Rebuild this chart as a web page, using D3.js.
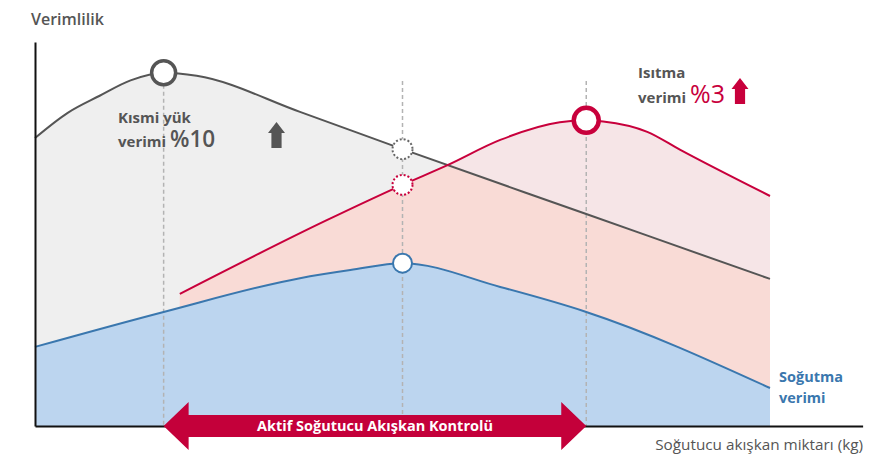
<!DOCTYPE html>
<html>
<head>
<meta charset="utf-8">
<script src="https://cdn.jsdelivr.net/npm/d3@7"></script>
<style>
  html, body { margin: 0; padding: 0; background: #fff; }
  svg { display: block; }
  text { font-family: "Open Sans", "Noto Sans", sans-serif; }
</style>
</head>
<body>
<svg id="chart" width="880" height="455"></svg>
<script>
// Refrigerant amount (x) vs. efficiency (y), relative units 0–100
const partLoadX = [0, 4.4, 8.8, 13, 17.5, 22, 36.05, 50, 75, 100];
const partLoadY = [75, 81.5, 86, 90, 92, 91.2, 81.8, 72.1, 55.2, 38.3];

const heatingX = [19.7, 39.7, 50, 56.2, 63.3, 71.4, 75, 77.3, 83.3, 87.8, 100];
const heatingY = [34.4, 53.6, 62.8, 68, 74.5, 79.1, 79.6, 79.3, 76.6, 71.9, 59.9];

const coolingX = [0, 17.5, 36.05, 42.9, 50, 63.3, 75, 100];
const coolingY = [20.6, 29.7, 38.5, 40.6, 42.4, 36.2, 29.7, 9.9];

// Marker positions: optimum points and the active control range
const partLoadPeak = 17.5;
const coolingPeak = 50;
const heatingPeak = 75;
const controlRange = [17.5, 75];
const axisEndX = 112.6;

const axisLabelY = "Verimlilik";
const axisLabelX = "Soğutucu akışkan miktarı (kg)";
const rangeLabel = "Aktif Soğutucu Akışkan Kontrolü";

const svg = d3.select("#chart");
const x = d3.scaleLinear().domain([0, 100]).range([35, 770]);
const y = d3.scaleLinear().domain([0, 100]).range([426, 42]);

const zip = (xs, ys) => xs.map((v, i) => [v, ys[i]]);
const partLoad = zip(partLoadX, partLoadY);
const heating = zip(heatingX, heatingY);
const cooling = zip(coolingX, coolingY);

const curve = d3.curveMonotoneX;
const area = d3.area().x(d => x(d[0])).y0(y(0)).y1(d => y(d[1])).curve(curve);
const line = d3.line().x(d => x(d[0])).y(d => y(d[1])).curve(curve);

function valueAt(series, xv) {
  // read a series value from the drawn path at a given x
  const path = svg.append("path").attr("d", line(series)).attr("fill", "none");
  const node = path.node();
  const len = node.getTotalLength();
  const px = x(xv);
  let lo = 0, hi = len;
  for (let i = 0; i < 40; i++) {
    const mid = (lo + hi) / 2;
    if (node.getPointAtLength(mid).x < px) lo = mid; else hi = mid;
  }
  const py = node.getPointAtLength(lo).y;
  path.remove();
  return py;
}

const defs = svg.append("defs");
defs.append("clipPath").attr("id", "partLoadClip")
  .append("path").attr("d", area(partLoad));

// Filled areas
svg.append("path").attr("d", area(partLoad)).attr("fill", "#efefef");
svg.append("path").attr("d", area(heating)).attr("fill", "#f6e5e7");
svg.append("path").attr("d", area(heating)).attr("fill", "#f9dbd6")
  .attr("clip-path", "url(#partLoadClip)");
svg.append("path").attr("d", area(cooling)).attr("fill", "#bcd5ef");

// Vertical guide lines at the optimum points
const guides = [
  { v: partLoadPeak, top: y(92) + 12 },
  { v: coolingPeak, top: 81 },
  { v: heatingPeak, top: 81 }
];
svg.selectAll("line.guide").data(guides).join("line")
  .attr("class", "guide")
  .attr("x1", d => x(d.v)).attr("x2", d => x(d.v))
  .attr("y1", d => d.top).attr("y2", y(0))
  .attr("stroke", "#b3b3b3").attr("stroke-width", 1.5)
  .attr("stroke-dasharray", "4,3");

// Curves
svg.append("path").attr("d", line(partLoad)).attr("fill", "none")
  .attr("stroke", "#555555").attr("stroke-width", 2);
svg.append("path").attr("d", line(heating)).attr("fill", "none")
  .attr("stroke", "#c8003c").attr("stroke-width", 2);
svg.append("path").attr("d", line(cooling)).attr("fill", "none")
  .attr("stroke", "#3a77ae").attr("stroke-width", 2);

// Axes
const xAxisScale = d3.scaleLinear().domain([0, axisEndX]).range([x(0), x(axisEndX)]);
const xAxis = svg.append("g").attr("transform", `translate(0,${y(0)})`)
  .call(d3.axisBottom(xAxisScale).tickValues([]).tickSizeOuter(0));
const yAxis = svg.append("g").attr("transform", `translate(${x(0)},0)`)
  .call(d3.axisLeft(y).tickValues([]).tickSizeOuter(0));
[xAxis, yAxis].forEach(g => g.select(".domain")
  .attr("stroke", "#111").attr("stroke-width", 2));

// Optimum markers
function marker(xv, series, r, stroke, sw, dash) {
  svg.append("circle")
    .attr("cx", x(xv)).attr("cy", valueAt(series, xv)).attr("r", r)
    .attr("fill", "#fff").attr("stroke", stroke).attr("stroke-width", sw)
    .attr("stroke-dasharray", dash || null);
}
marker(partLoadPeak, partLoad, 12, "#555555", 3.5);
marker(heatingPeak, heating, 12.5, "#c8003c", 4.5);
marker(coolingPeak, cooling, 9.5, "#3a77ae", 2);
marker(coolingPeak, partLoad, 10, "#666666", 2, "2,2");
marker(coolingPeak, heating, 10, "#c8003c", 2, "2,2");

// Double arrow for the active control range
const ax0 = x(controlRange[0]), ax1 = x(controlRange[1]), ay = y(0);
const head = 25, bodyH = 11, headH = 24;
const arrowPath = d3.path();
arrowPath.moveTo(ax0, ay);
arrowPath.lineTo(ax0 + head, ay - headH);
arrowPath.lineTo(ax0 + head, ay - bodyH);
arrowPath.lineTo(ax1 - head, ay - bodyH);
arrowPath.lineTo(ax1 - head, ay - headH);
arrowPath.lineTo(ax1, ay);
arrowPath.lineTo(ax1 - head, ay + headH);
arrowPath.lineTo(ax1 - head, ay + bodyH);
arrowPath.lineTo(ax0 + head, ay + bodyH);
arrowPath.lineTo(ax0 + head, ay + headH);
arrowPath.closePath();
svg.append("path").attr("d", arrowPath.toString()).attr("fill", "#c4003a");
svg.append("text").attr("x", (ax0 + ax1) / 2).attr("y", ay + 5)
  .attr("text-anchor", "middle").attr("fill", "#fff")
  .attr("font-size", 14.5).attr("font-weight", 700).text(rangeLabel);

// Axis titles
svg.append("text").attr("x", 31).attr("y", 25).attr("fill", "#555")
  .attr("font-size", 16).attr("font-weight", 600).text(axisLabelY);
svg.append("text").attr("x", 863).attr("y", 450).attr("text-anchor", "end")
  .attr("fill", "#555").attr("font-size", 15.3).text(axisLabelX);

// Up arrow glyph
function upArrow(cx, top, bottom, w, color) {
  const p = d3.path();
  const hh = (bottom - top) * 0.42, sw = w * 0.3;
  p.moveTo(cx, top);
  p.lineTo(cx + w / 2, top + hh);
  p.lineTo(cx + sw, top + hh);
  p.lineTo(cx + sw, bottom);
  p.lineTo(cx - sw, bottom);
  p.lineTo(cx - sw, top + hh);
  p.lineTo(cx - w / 2, top + hh);
  p.closePath();
  svg.append("path").attr("d", p.toString()).attr("fill", color);
}

// Part-load annotation
const pl = svg.append("g").attr("fill", "#555").attr("font-weight", 700);
pl.append("text").attr("x", 118).attr("y", 123).attr("font-size", 15).text("Kısmi yük");
const pl2 = pl.append("text").attr("x", 118).attr("y", 147);
pl2.append("tspan").attr("font-size", 15).text("verimi ");
pl2.append("tspan").attr("font-size", 22.5).attr("font-weight", 600).text("%10");
upArrow(276.5, 122, 148, 17, "#555");

// Heating annotation
const ht = svg.append("g").attr("fill", "#555").attr("font-weight", 700);
ht.append("text").attr("x", 638).attr("y", 78).attr("font-size", 15).text("Isıtma");
const ht2 = ht.append("text").attr("x", 638).attr("y", 103);
ht2.append("tspan").attr("font-size", 15).text("verimi ");
ht2.append("tspan").attr("font-size", 25).attr("font-weight", 400)
  .attr("fill", "#c8003c").text("%3");
upArrow(740, 78, 104, 17, "#c8003c");

// Cooling annotation
const cl = svg.append("g").attr("fill", "#3a77ae").attr("font-weight", 700)
  .attr("font-size", 14.5);
cl.append("text").attr("x", 779).attr("y", 382).text("Soğutma");
cl.append("text").attr("x", 779).attr("y", 403).text("verimi");
</script>
</body>
</html>
